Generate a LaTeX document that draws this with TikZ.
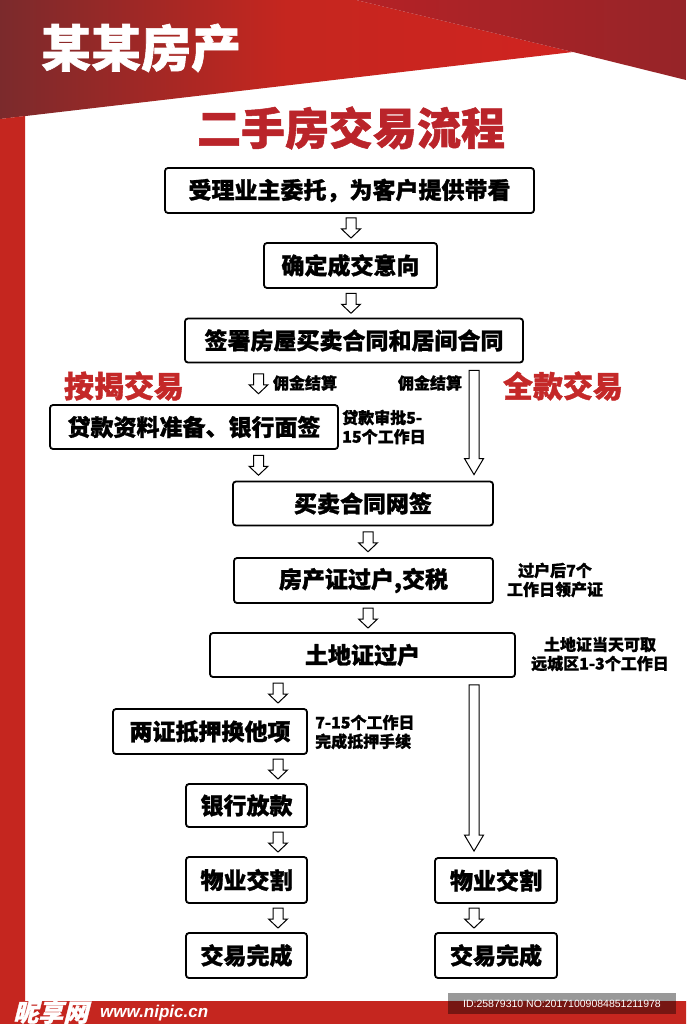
\documentclass[tikz,border=0pt]{standalone}
\usepackage{fontspec}
\newfontfamily\cjk{Noto Sans CJK SC}[BoldFeatures={FakeBold=1.2}]
\newfontfamily\cjkit{Noto Sans CJK SC}[FakeSlant=0.25, BoldFeatures={FakeBold=1.2}]
\newfontfamily\latin{Liberation Sans}
\usetikzlibrary{calc}
\definecolor{hdrdark}{HTML}{7B2A2C}
\definecolor{hdrred}{HTML}{D02420}
\definecolor{banddark}{HTML}{962428}
\definecolor{bandmid}{HTML}{B52226}
\definecolor{framered}{HTML}{C5261F}
\definecolor{titlered}{HTML}{BA242A}
\definecolor{lblred}{HTML}{C42828}
\tikzset{
  box/.style={draw=black, line width=1.8pt, rounded corners=3pt, fill=white, inner sep=0pt,
    font=\cjk\bfseries\fontsize{23}{23}\selectfont},
  harrow/.style={draw=black, line width=1pt, fill=white, line join=miter},
  redlbl/.style={text=lblred, inner sep=0pt, font=\cjk\bfseries\fontsize{30}{30}\selectfont},
  note/.style={inner sep=0pt, font=\cjk\bfseries\fontsize{16}{19}\selectfont},
}
\newcommand\sarrow[2]{%
  \draw[harrow] ($(#1)!0.5!(#2)$) ++(-5,-10) -- ++(10,0) -- ++(0,11) -- ++(4.5,0)
    -- ++(-9.5,9) -- ++(-9.5,-9) -- ++(4.5,0) -- cycle;}
\newcommand\larrow[2]{%
  \draw[harrow] let \p1=($(#1)+(0,7)$), \p2=($(#2)+(0,-6)$) in
    (\x1-5pt,\y1) -- (\x1+5pt,\y1) -- (\x1+5pt,\y2+16pt) -- (\x1+9.5pt,\y2+16pt)
    -- (\x1,\y2) -- (\x1-9.5pt,\y2+16pt) -- (\x1-5pt,\y2+16pt) -- cycle;}
\begin{document}
\begin{tikzpicture}[x=1pt,y=-1pt]
\useasboundingbox (0,0) rectangle (686,1024);
\fill[white] (0,0) rectangle (686,1024);
% header
\shade[left color=hdrdark, right color=hdrred, middle color=framered]
  (0,0) -- (356,0) -- (573,52) -- (0,119) -- cycle;
\shade[left color=bandmid, right color=banddark]
  (356,0) -- (686,0) -- (686,80) -- (573,52) -- cycle;
% frame
\fill[framered] (0,119) -- (25,116) -- (25,1001) -- (686,1001) -- (686,1024) -- (0,1024) -- cycle;
% header texts
\node[text=white, inner sep=0pt, font=\cjk\bfseries\fontsize{50}{50}\selectfont] (brand) at (141,48) {某某房产};
\node[text=titlered, inner sep=0pt, font=\cjk\bfseries\fontsize{44}{44}\selectfont] (title) at (351,128) {二手房交易流程};
% boxes
\node[box, minimum width=369, minimum height=45] (b1) at (349.5,190.5) {受理业主委托，为客户提供带看};
\node[box, minimum width=173, minimum height=45] (b2) at (350.5,265.5) {确定成交意向};
\node[box, minimum width=338, minimum height=44] (b3) at (354,340.5) {签署房屋买卖合同和居间合同};
\node[box, minimum width=288, minimum height=44] (b4) at (194,427) {贷款资料准备、银行面签};
\node[box, minimum width=260, minimum height=44] (b5) at (363,503.5) {买卖合同网签};
\node[box, minimum width=259, minimum height=45] (b6) at (363.5,580.5) {房产证过户,交税};
\node[box, minimum width=305, minimum height=44] (b7) at (362.5,655) {土地证过户};
\node[box, minimum width=194, minimum height=45] (b8) at (210,731.5) {两证抵押换他项};
\node[box, minimum width=121, minimum height=43] (b9) at (246.5,805.5) {银行放款};
\node[box, minimum width=121, minimum height=46] (b10) at (246.5,880) {物业交割};
\node[box, minimum width=121, minimum height=45] (b11) at (246.5,955.5) {交易完成};
\node[box, minimum width=122, minimum height=45] (r10) at (496,880.5) {物业交割};
\node[box, minimum width=122, minimum height=45] (r11) at (496,955.5) {交易完成};
% arrow columns
\coordinate (cM) at (351,0);
\coordinate (cA) at (258.5,0);
\coordinate (cC) at (368,0);
\coordinate (cL) at (278,0);
\coordinate (cR) at (474,0);
\sarrow{cM |- b1.south}{cM |- b2.north}
\sarrow{cM |- b2.south}{cM |- b3.north}
\sarrow{cA |- b3.south}{cA |- b4.north}
\sarrow{cA |- b4.south}{cA |- b5.north}
\larrow{cR |- b3.south}{cR |- b5.north}
\sarrow{cC |- b5.south}{cC |- b6.north}
\sarrow{cC |- b6.south}{cC |- b7.north}
\sarrow{cL |- b7.south}{cL |- b8.north}
\larrow{cR |- b7.south}{cR |- r10.north}
\sarrow{cL |- b8.south}{cL |- b9.north}
\sarrow{cL |- b9.south}{cL |- b10.north}
\sarrow{cL |- b10.south}{cL |- b11.north}
\sarrow{cR |- r10.south}{cR |- r11.north}
% labels
\node[redlbl] (aj) at (124,386) {按揭交易};
\node[redlbl] (qk) at (563,386) {全款交易};
\node[note] (yj1) at (305,383) {佣金结算};
\node[note] (yj2) at (430,383) {佣金结算};
\node[note, align=left, anchor=west] (n4) at (342,427) {贷款审批5-\\15个工作日};
\node[note, align=center] (n6) at (555,580) {过户后7个\\工作日领产证};
\node[note, align=center] (n7) at (600,654) {土地证当天可取\\远城区1-3个工作日};
\node[note, align=left, anchor=west] (n8) at (315,732) {7-15个工作日\\完成抵押手续};
% watermark
\node[text=white, inner sep=0pt, anchor=west, font=\cjkit\bfseries\fontsize{25}{25}\selectfont] (wm1) at (13,1012) {昵享网};
\node[text=white, inner sep=0pt, anchor=west, font=\latin\bfseries\itshape\fontsize{17}{17}\selectfont] (wm2) at (100,1013) {www.nipic.cn};
\node[fill=black, fill opacity=0.4, text opacity=1, text=white, minimum width=228, minimum height=21, inner sep=0pt,
  font=\latin\fontsize{10.5}{10.5}\selectfont] (wid) at (562,1003.5) {ID:25879310 NO:20171009084851211978};
\end{tikzpicture}
\end{document}
